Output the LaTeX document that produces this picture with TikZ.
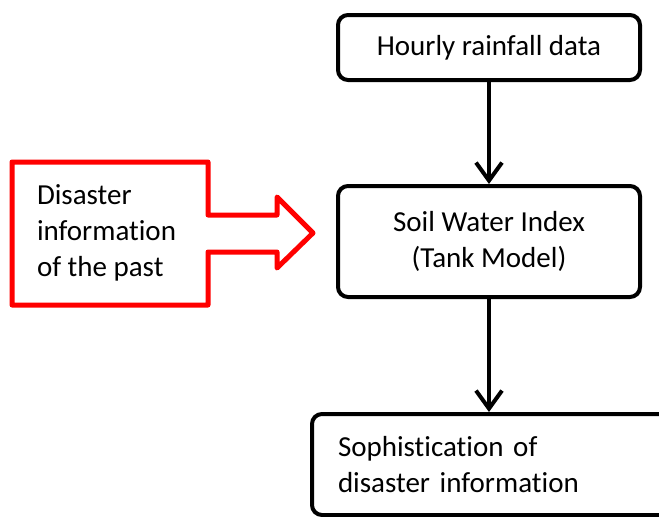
\documentclass[tikz,border=0pt]{standalone}
\usepackage{fontspec}
\setmainfont{Carlito}[Ligatures=NoCommon]
\usetikzlibrary{arrows.meta}
\begin{document}
\begin{tikzpicture}[x=1pt, y=-1pt, line width=4pt,
  box/.style={draw, rounded corners=10pt, minimum width=302pt, font=\fontsize{29}{36}\selectfont, align=center},
  flow/.style={-{Straight Barb[length=18pt, width=26pt]}}]
\useasboundingbox (0,0) rectangle (659,517);
\clip (0,0) rectangle (659,517);
\node[box, minimum height=65pt] (rain) at (489,47.5) {Hourly rainfall data};
\node[box, minimum height=111pt] (swi) at (489,241.5) {Soil Water Index\\(Tank Model)};
\node[box, minimum height=101pt, anchor=north west, text width=340pt, inner xsep=26pt, align=left] (soph) at (310,412) {Sophistication of\\disaster information};
\draw[flow] (rain) -- (swi);
\draw[flow] (swi.south) -- (swi.south |- soph.north);
% red block arrow
\draw[red, line width=5pt, line join=round] (12,162) -- (208,162) -- (208,215) -- (277,215) -- (277,197) -- (313,233) -- (277,268) -- (277,252) -- (208,252) -- (208,305) -- (12,305) -- cycle;
\node[anchor=west, align=left, inner sep=0pt, font=\fontsize{29}{36}\selectfont] (past) at (35,233) {Disaster\\information\\of the past};
\end{tikzpicture}
\end{document}
